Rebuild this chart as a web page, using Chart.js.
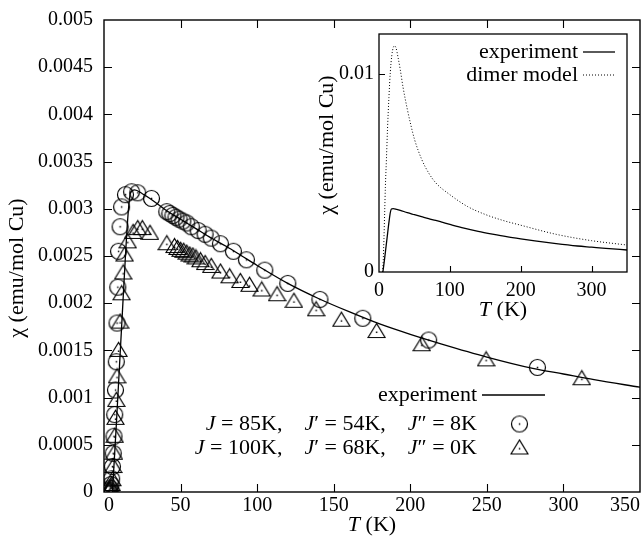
<!DOCTYPE html>
<html>
<head>
<meta charset="utf-8">
<title>chi(T)</title>
<script src="https://cdn.jsdelivr.net/npm/chart.js@4.4.1/dist/chart.umd.min.js"></script>
<style>
  html, body { margin: 0; padding: 0; background: #fff; }
  #wrap { position: relative; width: 641px; height: 540px; overflow: hidden; }
  #main { position: absolute; left: 0; top: 0; }
  #inset { position: absolute; left: 310px; top: 28px; }
  .preload { position: absolute; left: -999px; top: 0; font-family: 'Liberation Serif'; font-size: 20px; }
</style>
</head>
<body>
<div id="wrap">
  <canvas id="main" width="641" height="540"></canvas>
  <canvas id="inset" width="326" height="296"></canvas>
</div>
<span class="preload">0.005 T (K)</span><span class="preload" style="font-style:italic">J T</span>
<script>
// ---- data ----
// experiment curve
const expT   = [5.5, 8, 10, 12, 14, 16, 17.5, 20, 25, 30, 40, 50, 60, 70, 80, 90, 100, 120, 140, 160, 180, 200, 220, 250, 280, 300, 320, 350];
const expChi = [0, 0.0007, 0.0013, 0.0019, 0.0025, 0.0030, 0.00318, 0.0032, 0.00316, 0.00311, 0.00299, 0.00289, 0.00279, 0.00269, 0.0026, 0.0025, 0.0024, 0.00221, 0.00205, 0.00191, 0.00178, 0.00167, 0.00157, 0.00143, 0.00131, 0.00125, 0.00119, 0.00111];

// J=85K, J'=54K, J''=8K (circles)
const circT   = [3, 3.5, 4, 4.5, 5, 5.5, 6, 6.5, 7, 7.5, 8, 8.5, 9, 9.5, 10.5, 11.5, 14, 18, 22, 31, 41, 43, 45, 47, 49, 51.5, 54, 57, 61.5, 66, 70, 76, 84.5, 93, 105, 120, 141, 169, 212, 283];
const circChi = [0.00001, 0.00002, 0.00004, 0.00008, 0.00014, 0.00027, 0.00041, 0.00059, 0.00082, 0.00108, 0.00138, 0.00179, 0.00217, 0.00255, 0.00281, 0.00302, 0.00315, 0.00318, 0.00317, 0.00311, 0.00297, 0.00295, 0.00293, 0.00291, 0.00289, 0.00287, 0.00285, 0.00281, 0.00277, 0.00273, 0.00269, 0.00263, 0.00255, 0.00246, 0.00235, 0.00221, 0.00204, 0.00184, 0.00161, 0.00132];

// J=100K, J'=68K, J''=0K (triangles)
const triT   = [3, 3.5, 4, 4.5, 5, 5.5, 6, 6.5, 7, 7.5, 8, 8.5, 9.5, 10.5, 11.5, 12.5, 13.5, 15.5, 19, 22, 25, 30, 41, 46, 48, 50, 52, 54, 56, 58, 60, 63, 66, 70, 76, 82, 89, 95, 103, 113, 124, 138.5, 155, 178, 207.5, 249.5, 312];
const triChi = [0.00001, 0.00002, 0.00003, 0.00005, 0.00008, 0.00013, 0.00027, 0.00041, 0.00059, 0.00078, 0.00097, 0.00122, 0.0015, 0.0018, 0.0021, 0.00232, 0.00251, 0.00265, 0.00275, 0.00279, 0.00279, 0.00274, 0.00263, 0.0026, 0.00258, 0.00256, 0.00255, 0.00253, 0.00251, 0.0025, 0.00248, 0.00245, 0.00242, 0.00239, 0.00233, 0.00228, 0.00223, 0.00219, 0.00214, 0.00209, 0.00202, 0.00193, 0.00182, 0.0017, 0.00156, 0.0014, 0.0012];

// inset: dimer model
const dimT   = [5, 6, 7, 8, 9, 10.5, 12, 14, 16, 18, 20, 22, 24, 27, 30, 34, 40, 45, 50, 60, 70, 80, 100, 125, 150, 175, 200, 250, 300, 350];
const dimChi = [0, 0.0006, 0.0017, 0.003, 0.0043, 0.0057, 0.0072, 0.0088, 0.0101, 0.0109, 0.0113, 0.0114, 0.0113, 0.0108, 0.0102, 0.0093, 0.0082, 0.0074, 0.0067, 0.0057, 0.0050, 0.0045, 0.0039, 0.0033, 0.0029, 0.0026, 0.00236, 0.0019, 0.00158, 0.00136];

// ticks
const xTicks = [0, 50, 100, 150, 200, 250, 300, 350];
const yTicks = [0, 0.0005, 0.001, 0.0015, 0.002, 0.0025, 0.003, 0.0035, 0.004, 0.0045, 0.005];
const insetXTicks = [0, 100, 200, 300];
const insetYTicks = [0, 0.01];

const labelCirc = 'J = 85K,    J\u2032 = 54K,    J\u2033 = 8K';
const labelTri  = 'J = 100K,    J\u2032 = 68K,    J\u2033 = 0K';

// ---- helpers ----
const SERIF = '"Liberation Serif", serif';
const pts = (xs, ys) => xs.map((x, i) => ({ x, y: ys[i] }));

function circleMarker() {
  const c = document.createElement('canvas');
  c.width = c.height = 19;
  const g = c.getContext('2d');
  g.strokeStyle = '#000'; g.lineWidth = 1.2;
  g.beginPath(); g.arc(9.5, 9.5, 8, 0, Math.PI * 2); g.stroke();
  g.fillStyle = '#000'; g.fillRect(8.8, 8.8, 1.5, 1.5);
  return c;
}

function triangleMarker() {
  const c = document.createElement('canvas');
  c.width = c.height = 19;
  const g = c.getContext('2d');
  g.strokeStyle = '#000'; g.lineWidth = 1.2;
  g.beginPath(); g.moveTo(9.5, 1.5); g.lineTo(1, 15.5); g.lineTo(18, 15.5); g.closePath(); g.stroke();
  g.fillStyle = '#000'; g.fillRect(8.8, 9.5, 1.5, 1.5);
  return c;
}

// uppercase J and T are set in italics, like the original
function runsOf(str) {
  const runs = [];
  for (const ch of str) {
    const it = ch === 'J' || ch === 'T';
    if (runs.length && runs[runs.length - 1].it === it) runs[runs.length - 1].t += ch;
    else runs.push({ t: ch, it });
  }
  return runs;
}

function drawRuns(ctx, str, x, y, align, size) {
  const runs = runsOf(str);
  let w = 0;
  runs.forEach(r => {
    ctx.font = (r.it ? 'italic ' : '') + size + 'px ' + SERIF;
    r.w = ctx.measureText(r.t).width;
    w += r.w;
  });
  let cx = align === 'right' ? x - w : align === 'center' ? x - w / 2 : x;
  ctx.textAlign = 'left';
  ctx.textBaseline = 'middle';
  runs.forEach(r => {
    ctx.font = (r.it ? 'italic ' : '') + size + 'px ' + SERIF;
    ctx.fillText(r.t, cx, y);
    cx += r.w;
  });
}

// box + inward tick marks
const framePlugin = {
  id: 'frame',
  afterDatasetsDraw(chart, args, o) {
    const { ctx, chartArea: a, scales } = chart;
    ctx.save();
    ctx.strokeStyle = '#000';
    ctx.lineWidth = o.lineWidth || 1.4;
    ctx.strokeRect(a.left, a.top, a.right - a.left, a.bottom - a.top);
    ctx.beginPath();
    (o.xTicks || []).forEach(v => {
      const p = Math.round(scales.x.getPixelForValue(v)) + 0.5;
      ctx.moveTo(p, a.bottom); ctx.lineTo(p, a.bottom - o.len);
      if (o.mirror) { ctx.moveTo(p, a.top); ctx.lineTo(p, a.top + o.len); }
    });
    (o.yTicks || []).forEach(v => {
      const p = Math.round(scales.y.getPixelForValue(v)) + 0.5;
      ctx.moveTo(a.left, p); ctx.lineTo(a.left + o.len, p);
      if (o.mirror) { ctx.moveTo(a.right, p); ctx.lineTo(a.right - o.len, p); }
    });
    ctx.lineWidth = 1.1;
    ctx.stroke();
    ctx.restore();
  }
};

// gnuplot-like key: text right-aligned, sample on the right
const keyPlugin = {
  id: 'gnukey',
  afterDraw(chart, args, o) {
    const ctx = chart.ctx;
    ctx.save();
    ctx.fillStyle = '#000';
    chart.data.datasets.forEach((ds, i) => {
      const y = o.y + (o.rows ? o.rows[i] : i * o.rowH);
      drawRuns(ctx, ds.label, o.x, y, 'right', o.size);
      const x0 = o.x + o.gap, x1 = x0 + o.sampleW;
      if (ds.showLine) {
        ctx.strokeStyle = '#000';
        ctx.lineWidth = ds.borderWidth;
        ctx.setLineDash(ds.borderDash || []);
        ctx.beginPath(); ctx.moveTo(x0, y); ctx.lineTo(x1, y); ctx.stroke();
        ctx.setLineDash([]);
      } else {
        const img = ds.pointStyle;
        const mx = (x0 + x1) / 2 + (o.markerDx || 0);
        ctx.drawImage(img, mx - img.width / 2, y - img.height / 2);
      }
    });
    ctx.restore();
  }
};

// axis titles
const titlePlugin = {
  id: 'axtitles',
  afterDraw(chart, args, o) {
    const { ctx, chartArea: a } = chart;
    ctx.save();
    ctx.fillStyle = '#000';
    drawRuns(ctx, o.x, (a.left + a.right) / 2 + o.xdx, a.bottom + o.xdy, 'center', o.size);
    ctx.translate(o.yx, (a.top + a.bottom) / 2 + o.ydy);
    ctx.rotate(-Math.PI / 2);
    drawRuns(ctx, o.y, 0, 0, 'center', o.size);
    ctx.restore();
  }
};

const tickFont = { family: SERIF, size: 20 };

function drawCharts() {
  // ---- main chart ----
  new Chart(document.getElementById('main'), {
    type: 'scatter',
    data: {
      datasets: [
        { label: 'experiment', data: pts(expT, expChi), showLine: true, borderColor: '#000', borderWidth: 1.3,
          pointRadius: 0, cubicInterpolationMode: 'monotone' },
        { label: labelCirc, data: pts(circT, circChi), pointStyle: circleMarker(), pointRadius: 8 },
        { label: labelTri, data: pts(triT, triChi), pointStyle: triangleMarker(), pointRadius: 8 }
      ]
    },
    options: {
      responsive: false,
      animation: false,
      events: [],
      layout: { autoPadding: false, padding: { top: 20, right: 1, left: 0, bottom: 0 } },
      plugins: {
        legend: { display: false },
        tooltip: { enabled: false },
        frame: { xTicks: xTicks.slice(1, -1), yTicks: yTicks.slice(1, -1), len: 8, mirror: true },
        gnukey: { x: 477, y: 395, rows: [0, 29, 53], gap: 5, sampleW: 63, markerDx: 6, size: 22 },
        axtitles: { x: 'T (K)', y: '\u03c7 (emu/mol Cu)', xdx: 0, xdy: 33, yx: 17, ydy: 12, size: 22 }
      },
      scales: {
        x: {
          type: 'linear', min: 0, max: 350,
          afterBuildTicks: s => { s.ticks = xTicks.map(v => ({ value: v })); },
          afterFit: s => { s.height = 48; s.paddingLeft = 0; s.paddingRight = 0; },
          grid: { display: false, drawTicks: false },
          border: { display: false },
          ticks: { font: tickFont, color: '#000', padding: 2, align: 'inner', maxRotation: 0, autoSkip: false }
        },
        y: {
          type: 'linear', min: 0, max: 0.005,
          afterBuildTicks: s => { s.ticks = yTicks.map(v => ({ value: v })); },
          afterFit: s => { s.width = 104; s.paddingTop = 0; s.paddingBottom = 0; },
          grid: { display: false, drawTicks: false },
          border: { display: false },
          ticks: { font: tickFont, color: '#000', padding: 11, autoSkip: false,
                   callback: v => String(+v.toFixed(4)) }
        }
      }
    },
    plugins: [framePlugin, keyPlugin, titlePlugin]
  });

  // ---- inset ----
  new Chart(document.getElementById('inset'), {
    type: 'scatter',
    data: {
      datasets: [
        { label: 'experiment', data: pts(expT, expChi), showLine: true, borderColor: '#000', borderWidth: 1.3,
          pointRadius: 0, cubicInterpolationMode: 'monotone' },
        { label: 'dimer model', data: pts(dimT, dimChi), showLine: true, borderColor: '#000', borderWidth: 1,
          borderDash: [1, 2], pointRadius: 0, cubicInterpolationMode: 'monotone' }
      ]
    },
    options: {
      responsive: false,
      animation: false,
      events: [],
      layout: { autoPadding: false, padding: { top: 6, right: 9, left: 0, bottom: 0 } },
      plugins: {
        legend: { display: false },
        tooltip: { enabled: false },
        frame: { xTicks: insetXTicks.slice(1), yTicks: insetYTicks.slice(1), len: 6, mirror: false, lineWidth: 1.3 },
        gnukey: { x: 268, y: 24, rowH: 23, gap: 5, sampleW: 32, size: 22 },
        axtitles: { x: 'T (K)', y: '\u03c7 (emu/mol Cu)', xdx: 0, xdy: 38, yx: 17, ydy: -8, size: 22 }
      },
      scales: {
        x: {
          type: 'linear', min: 0, max: 350,
          afterBuildTicks: s => { s.ticks = insetXTicks.map(v => ({ value: v })); },
          afterFit: s => { s.height = 52; s.paddingLeft = 0; s.paddingRight = 0; },
          grid: { display: false, drawTicks: false },
          border: { display: false },
          ticks: { font: tickFont, color: '#000', padding: 7, maxRotation: 0, autoSkip: false }
        },
        y: {
          type: 'linear', min: 0, max: 0.012,
          afterBuildTicks: s => { s.ticks = insetYTicks.map(v => ({ value: v })); },
          afterFit: s => { s.width = 69; s.paddingTop = 0; s.paddingBottom = 0; },
          grid: { display: false, drawTicks: false },
          border: { display: false },
          ticks: { font: tickFont, color: '#000', padding: 5, autoSkip: false,
                   callback: v => String(+v.toFixed(3)) }
        }
      }
    },
    plugins: [framePlugin, keyPlugin, titlePlugin]
  });
}

Promise.all([
  document.fonts.load('20px "Liberation Serif"'),
  document.fonts.load('italic 20px "Liberation Serif"')
]).then(drawCharts, drawCharts);
</script>
</body>
</html>
